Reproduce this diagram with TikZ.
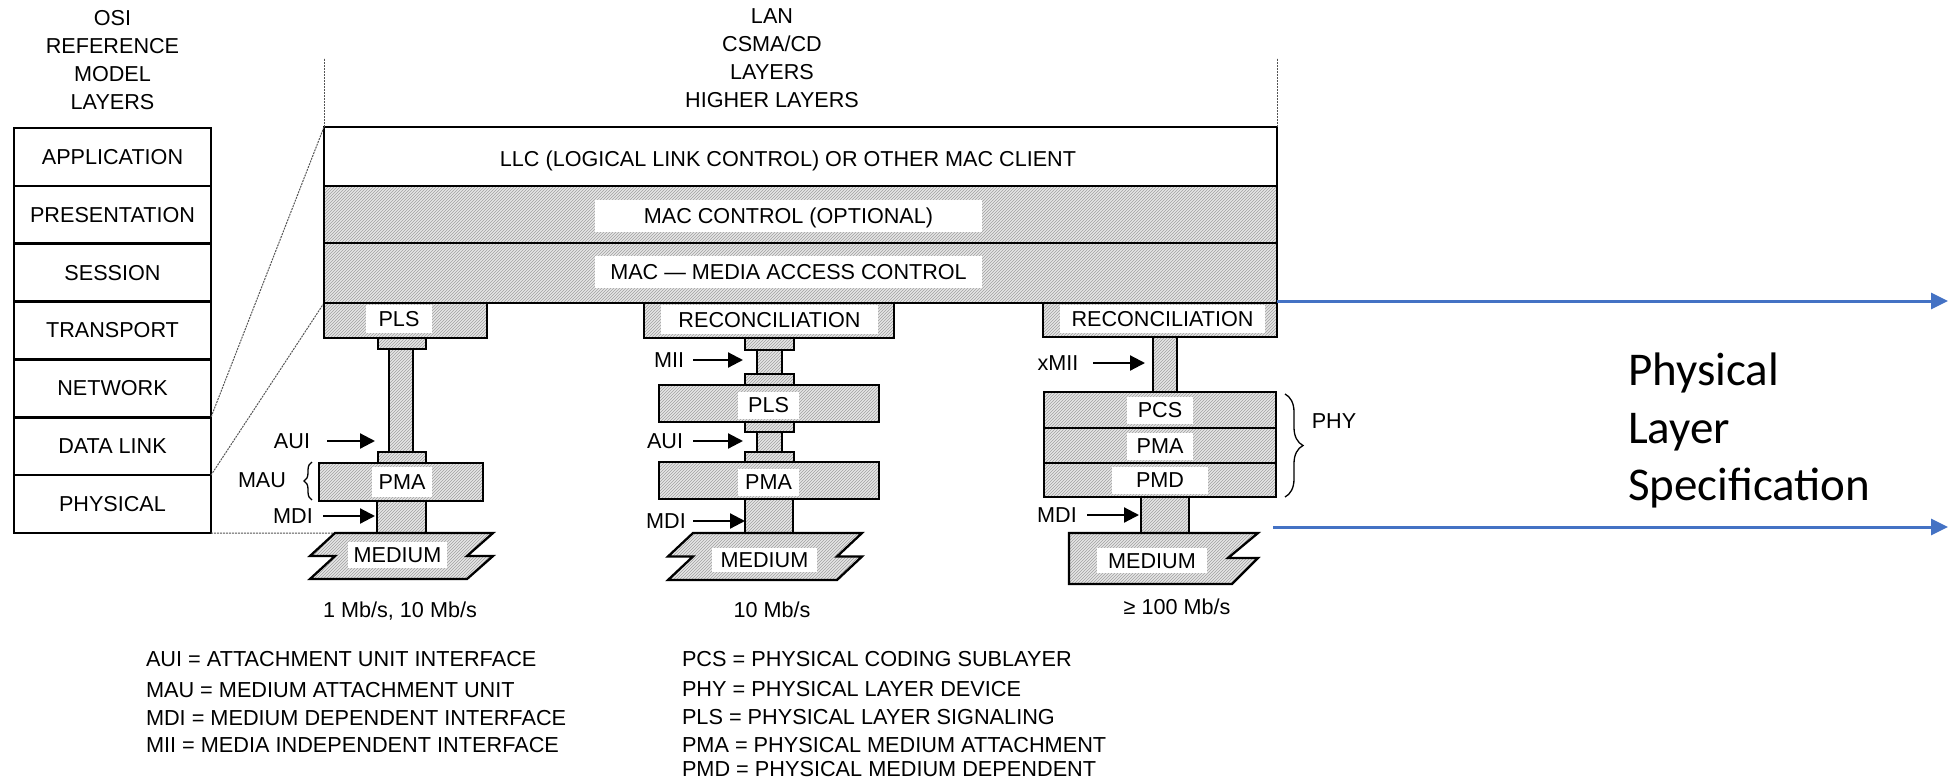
\documentclass[tikz,border=0pt]{standalone}
\usepackage{fontspec}
\setmainfont{Liberation Sans}
\newfontfamily\calibfont{Carlito}
\usetikzlibrary{patterns,arrows.meta,decorations.pathreplacing}
\definecolor{hatchbg}{RGB}{230,230,230}
\definecolor{hatchln}{RGB}{160,160,160}
\definecolor{specblue}{RGB}{68,114,196}
\definecolor{dotgray}{RGB}{85,85,85}
\newcommand\dgfont{\fontsize{21.6}{28}\selectfont}
\begin{document}
\begin{tikzpicture}[x=1pt,y=-1pt,
  every node/.style={inner sep=0pt,outer sep=0pt},
  osibox/.style={draw,line width=2.6pt,fill=white,minimum width=197pt,minimum height=57.86pt,font=\dgfont},
  hatchbox/.style={draw,line width=2.6pt,preaction={fill=hatchbg},pattern=north east lines,pattern color=hatchln},
  plainbox/.style={draw,line width=2.6pt,fill=white},
  lbl/.style={font=\dgfont,text height=15.5pt,text depth=0pt},
  whitelbl/.style={lbl,fill=white},
  blkarrow/.style={line width=2.2pt,-{Triangle[length=15pt,width=15pt]}},
  bluearrow/.style={draw=specblue,line width=3pt,-{Triangle[length=17pt,width=16pt]}},
  guide/.style={dotgray,line width=1pt,dash pattern=on 2pt off 1pt},
  mediumshape/.style={draw,line width=2.3pt,preaction={fill=hatchbg},pattern=north east lines,pattern color=hatchln},
  bracestyle/.style={line width=1.3pt,decorate},
  legend/.style={font=\fontsize{21.7}{26}\selectfont,anchor=west,text height=15.5pt,text depth=0pt},
]
\useasboundingbox (0,0) rectangle (1952,779);

% ---------- OSI column ----------
\node[font=\dgfont,align=center,anchor=north] (osihead) at (112.5,10.4) {OSI\\REFERENCE\\MODEL\\LAYERS};
\node[osibox] (app)   at (112.5,156.9) {APPLICATION};
\node[osibox] (pres)  at (112.5,214.8) {PRESENTATION};
\node[osibox] (sess)  at (112.5,272.6) {SESSION};
\node[osibox] (trans) at (112.5,330.5) {TRANSPORT};
\node[osibox] (netw)  at (112.5,388.4) {NETWORK};
\node[osibox] (dlink) at (112.5,446.2) {DATA LINK};
\node[osibox] (phys)  at (112.5,504.1) {PHYSICAL};

% ---------- LAN header and main stack ----------
\node[font=\dgfont,align=center,anchor=north] (lanhead) at (772,8.4) {LAN\\CSMA/CD\\LAYERS\\HIGHER LAYERS};
\node[plainbox,minimum width=953pt,minimum height=59pt] (llc) at (800.5,156.5) {};
\node[lbl] (llctext) at (788,159) {LLC (LOGICAL LINK CONTROL) OR OTHER MAC CLIENT};
\node[hatchbox,minimum width=953pt,minimum height=57pt] (macc) at (800.5,214.5) {};
\node[whitelbl,minimum width=387pt,minimum height=32pt] (macctext) at (788.5,216) {MAC CONTROL (OPTIONAL)};
\node[hatchbox,minimum width=953pt,minimum height=60pt] (mac) at (800.5,273) {};
\node[whitelbl,minimum width=387pt,minimum height=32pt] (mactext) at (788.5,272) {MAC --- MEDIA ACCESS CONTROL};

% guides
\coordinate (gtl) at (324,58);
\coordinate (gtr) at (1277,58);
\coordinate (lmedtl) at (335,533);
\draw[guide] (llc.north west) -- (gtl);
\draw[guide] (llc.north east) -- (gtr);
\draw[guide] (llc.north west) -- (dlink.north east);
\draw[guide] (mac.south west) -- (phys.north east);
\draw[guide] (phys.south east) -- (lmedtl);

% ---------- left column ----------
\node[hatchbox,minimum width=48pt,minimum height=11pt] (lcapa) at (402,343.5) {};
\node[hatchbox,minimum width=24pt,minimum height=103pt] (lstema) at (401,400.5) {};
\node[hatchbox,minimum width=48pt,minimum height=11pt] (lcapb) at (402,457.5) {};
\node[hatchbox,minimum width=49pt,minimum height=32pt] (lstemb) at (401.5,517) {};
\node[hatchbox,minimum width=163pt,minimum height=35pt] (lpls) at (405.5,320.5) {};
\node[whitelbl,minimum width=66pt,minimum height=28pt] (lplstext) at (399,319) {PLS};
\node[hatchbox,minimum width=164pt,minimum height=38pt] (lpma) at (401,482) {};
\node[whitelbl,minimum width=60pt,minimum height=30pt] (lpmatext) at (402,482) {PMA};
\draw[mediumshape] (lmedtl) -- (493,533) -- (467,556) -- (493,556) -- (467,579) -- (310,579) -- (335,556) -- (310,556) -- cycle;
\node[whitelbl,minimum width=99pt,minimum height=26pt] (lmedtext) at (397.5,555) {MEDIUM};

\node[lbl] (lauil) at (292,441) {AUI};
\coordinate (lauis) at (327,441); \coordinate (lauie) at (375,441);
\draw[blkarrow] (lauis) -- (lauie);
\node[lbl] (lmaul) at (262,480) {MAU};
\coordinate (lbrb) at (312,500); \coordinate (lbrt) at (312,462);
\draw[bracestyle,decoration={brace,amplitude=8pt}] (lbrb) -- (lbrt);
\node[lbl] (lmdil) at (293,516) {MDI};
\coordinate (lmdis) at (323,516); \coordinate (lmdie) at (375,516);
\draw[blkarrow] (lmdis) -- (lmdie);
\node[lbl] (spd1) at (400,610) {1 Mb/s, 10 Mb/s};

% ---------- middle column ----------
\node[hatchbox,minimum width=49pt,minimum height=12pt] (mcapa) at (769.5,344) {};
\node[hatchbox,minimum width=25pt,minimum height=24pt] (mstema) at (769.5,362) {};
\node[hatchbox,minimum width=49pt,minimum height=11pt] (mcapb) at (769.5,379.5) {};
\node[hatchbox,minimum width=49pt,minimum height=10pt] (mcapc) at (769.5,427) {};
\node[hatchbox,minimum width=25pt,minimum height=20pt] (mstemb) at (769.5,442) {};
\node[hatchbox,minimum width=49pt,minimum height=10pt] (mcapd) at (769.5,457) {};
\node[hatchbox,minimum width=48pt,minimum height=34pt] (mstemc) at (769,516) {};
\node[hatchbox,minimum width=250pt,minimum height=35pt] (mrec) at (769,320.5) {};
\node[whitelbl,minimum width=217pt,minimum height=29pt] (mrectext) at (769.5,319.5) {RECONCILIATION};
\node[hatchbox,minimum width=220pt,minimum height=37pt] (mpls) at (769,403.5) {};
\node[whitelbl,minimum width=61pt,minimum height=27pt] (mplstext) at (768.5,405) {PLS};
\node[hatchbox,minimum width=220pt,minimum height=37pt] (mpma) at (769,480.5) {};
\node[whitelbl,minimum width=61pt,minimum height=27pt] (mpmatext) at (768.5,482) {PMA};
\draw[mediumshape] (693,533) -- (862,533) -- (837,556.5) -- (862,556.5) -- (837,580) -- (668,580) -- (693,556.5) -- (668,556.5) -- cycle;
\node[whitelbl,minimum width=105pt,minimum height=24pt] (mmedtext) at (764.5,560) {MEDIUM};

\node[lbl] (mmiil) at (669,360) {MII};
\coordinate (mmiis) at (693,360); \coordinate (mmiie) at (743,360);
\draw[blkarrow] (mmiis) -- (mmiie);
\node[lbl] (mauil) at (665,441) {AUI};
\coordinate (mauis) at (693,441); \coordinate (mauie) at (743,441);
\draw[blkarrow] (mauis) -- (mauie);
\node[lbl] (mmdil) at (666,521) {MDI};
\coordinate (mmdis) at (693,521); \coordinate (mmdie) at (745,521);
\draw[blkarrow] (mmdis) -- (mmdie);
\node[lbl] (spd2) at (772,610) {10 Mb/s};

% ---------- right column ----------
\node[hatchbox,minimum width=24pt,minimum height=55pt] (rstema) at (1165,364.5) {};
\node[hatchbox,minimum width=48pt,minimum height=36pt] (rstemb) at (1165,515) {};
\node[hatchbox,minimum width=234pt,minimum height=34pt] (rrec) at (1160,320) {};
\node[whitelbl,minimum width=205pt,minimum height=28pt] (rrectext) at (1162.5,319) {RECONCILIATION};
\node[hatchbox,minimum width=232pt,minimum height=36pt] (rpcs) at (1160,410) {};
\node[whitelbl,minimum width=66pt,minimum height=27pt] (rpcstext) at (1160,410) {PCS};
\node[hatchbox,minimum width=232pt,minimum height=35pt] (rpma) at (1160,445.5) {};
\node[whitelbl,minimum width=66pt,minimum height=27pt] (rpmatext) at (1160,446) {PMA};
\node[hatchbox,minimum width=232pt,minimum height=34pt] (rpmd) at (1160,480) {};
\node[whitelbl,minimum width=96pt,minimum height=27pt] (rpmdtext) at (1160,480) {PMD};
\draw[mediumshape] (1069,533) -- (1258,533) -- (1228,558) -- (1258,558) -- (1232,584) -- (1069,584) -- cycle;
\node[whitelbl,minimum width=110pt,minimum height=25pt] (rmedtext) at (1152,560.5) {MEDIUM};

\node[lbl] (rxmiil) at (1058,363) {xMII};
\coordinate (rxmiis) at (1093,363); \coordinate (rxmiie) at (1145,363);
\draw[blkarrow] (rxmiis) -- (rxmiie);
\node[lbl] (rmdil) at (1057,515) {MDI};
\coordinate (rmdis) at (1087,515); \coordinate (rmdie) at (1139,515);
\draw[blkarrow] (rmdis) -- (rmdie);
\coordinate (rbrt) at (1285,394); \coordinate (rbrb) at (1285,497);
\draw[bracestyle,decoration={brace,amplitude=18pt}] (rbrt) -- (rbrb);
\node[lbl] (phyl) at (1334,421) {PHY};
\node[lbl] (spd3) at (1177,607) {≥ 100 Mb/s};

% ---------- blue arrows and spec text ----------
\coordinate (bats) at (1277,301); \coordinate (bate) at (1948,301);
\coordinate (babs) at (1273,527); \coordinate (babe) at (1948,527);
\draw[bluearrow] (bats) -- (bate);
\draw[bluearrow] (babs) -- (babe);
\node[font=\calibfont\fontsize{47}{58}\selectfont,anchor=base west] (spec1) at (1628,385) {Physical};
\node[font=\calibfont\fontsize{47}{58}\selectfont,anchor=base west] (spec2) at (1628,443) {Layer};
\node[font=\calibfont\fontsize{47}{58}\selectfont,anchor=base west] (spec3) at (1628,500) {Specification};

% ---------- legend ----------
\node[legend] (lga) at (146,658.5) {AUI = ATTACHMENT UNIT INTERFACE};
\node[legend] (lgb) at (146,689.5) {MAU = MEDIUM ATTACHMENT UNIT};
\node[legend] (lgc) at (146,717.5) {MDI = MEDIUM DEPENDENT INTERFACE};
\node[legend] (lgd) at (146,745) {MII = MEDIA INDEPENDENT INTERFACE};
\node[legend] (lge) at (682,658.5) {PCS = PHYSICAL CODING SUBLAYER};
\node[legend] (lgf) at (682,688.5) {PHY = PHYSICAL LAYER DEVICE};
\node[legend] (lgg) at (682,716.5) {PLS = PHYSICAL LAYER SIGNALING};
\node[legend] (lgh) at (682,744.5) {PMA = PHYSICAL MEDIUM ATTACHMENT};
\node[legend] (lgi) at (682,769) {PMD = PHYSICAL MEDIUM DEPENDENT};
\end{tikzpicture}
\end{document}
